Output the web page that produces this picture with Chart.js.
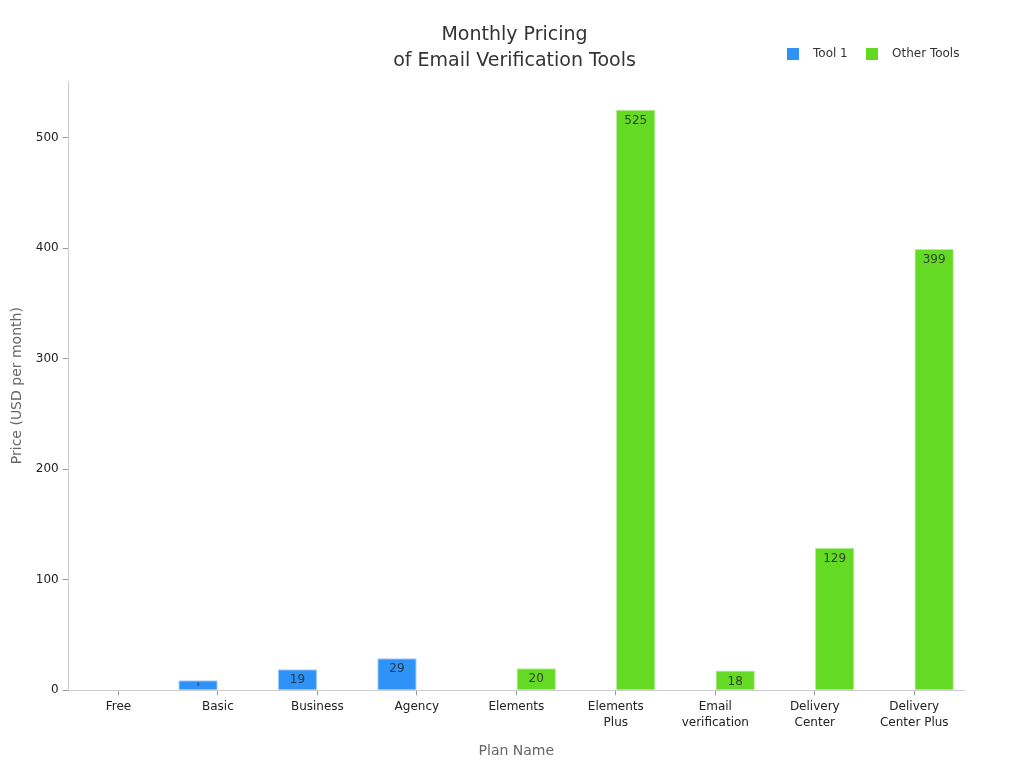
<!DOCTYPE html>
<html>
<head>
<meta charset="utf-8">
<script src="https://cdn.jsdelivr.net/npm/chart.js@4/dist/chart.umd.min.js"></script>
<style>
html,body{margin:0;padding:0;background:#fff;}
#wrap{width:1024px;height:768px;}
</style>
</head>
<body>
<div id="wrap"><canvas id="c" width="1024" height="768"></canvas></div>
<script>
const categories = ['Free', ['Basic'], 'Business', 'Agency', 'Elements', ['Elements', 'Plus'], ['Email', 'verification'], ['Delivery', 'Center'], ['Delivery', 'Center Plus']];
const tool1Values = [0, 9, 19, 29, null, null, null, null, null];
const otherToolsValues = [null, null, null, null, 20, 525, 18, 129, 399];
const seriesNames = ['Tool 1', 'Other Tools'];
const yTicks = [0, 100, 200, 300, 400, 500];
const titleLines = ['Monthly Pricing', 'of Email Verification Tools'];
const xTitle = 'Plan Name';
const yTitle = 'Price (USD per month)';

const FONT = "'DejaVu Sans', sans-serif";
const colors = ['#2f92f6', '#65da25'];
const borders = ['rgba(160,200,250,0.9)', 'rgba(170,235,140,0.9)'];

const valueLabels = {
  id: 'valueLabels',
  afterDatasetsDraw(chart) {
    const ctx = chart.ctx;
    ctx.save();
    ctx.textAlign = 'center';
    ctx.textBaseline = 'middle';
    ctx.fillStyle = 'rgba(40,40,40,0.85)';
    chart.data.datasets.forEach((ds, di) => {
      const meta = chart.getDatasetMeta(di);
      meta.data.forEach((bar, i) => {
        const v = ds.data[i];
        if (v === null || v === 0) return;
        const h = bar.base - bar.y;
        const size = h < 14 ? 5 : 12;
        ctx.font = size + 'px ' + FONT;
        ctx.fillText(String(v), bar.x, h < 14 ? bar.y + h / 2 : bar.y + 11);
      });
    });
    ctx.restore();
  }
};

const customLegend = {
  id: 'customLegend',
  afterDraw(chart) {
    const ctx = chart.ctx;
    ctx.save();
    ctx.font = '12px ' + FONT;
    ctx.textBaseline = 'middle';
    ctx.textAlign = 'left';
    const items = [{x: 787}, {x: 866}];
    chart.data.datasets.forEach((ds, i) => {
      const x = items[i].x;
      const y = 54;
      ctx.fillStyle = ds.backgroundColor;
      ctx.fillRect(x, y - 6, 12, 12);
      ctx.fillStyle = '#333';
      ctx.fillText(ds.label, x + 26, y);
    });
    ctx.restore();
  }
};

new Chart(document.getElementById('c'), {
  type: 'bar',
  data: {
    labels: categories,
    datasets: [
      {label: seriesNames[0], data: tool1Values, backgroundColor: colors[0], borderColor: borders[0], borderWidth: 1},
      {label: seriesNames[1], data: otherToolsValues, backgroundColor: colors[1], borderColor: borders[1], borderWidth: 1}
    ]
  },
  options: {
    responsive: false,
    animation: false,
    devicePixelRatio: 1,
    categoryPercentage: 0.8,
    barPercentage: 0.99,
    layout: {padding: {left: 5, right: 0, top: 0, bottom: 4}},
    plugins: {
      legend: {display: false},
      tooltip: {enabled: false},
      title: {
        display: true,
        text: titleLines,
        color: '#333',
        font: {family: FONT, size: 19, weight: 'normal', lineHeight: 1.37},
        padding: {top: 22, bottom: 7}
      }
    },
    scales: {
      x: {
        grid: {display: true, drawOnChartArea: false, drawTicks: true, tickLength: 5, color: '#999', offset: false},
        border: {display: true, color: '#ccc'},
        ticks: {color: '#222', font: {family: FONT, size: 12, lineHeight: 1.33}, maxRotation: 0, autoSkip: false, padding: 4},
        title: {display: true, text: xTitle, color: '#666', font: {family: FONT, size: 14}, padding: {top: 8}}
      },
      y: {
        min: 0,
        max: 551,
        afterBuildTicks(scale) { scale.ticks = yTicks.map(v => ({value: v})); },
        grid: {display: true, drawOnChartArea: false, drawTicks: true, tickLength: 6, color: '#999'},
        border: {display: true, color: '#ccc'},
        ticks: {color: '#222', font: {family: FONT, size: 12}, padding: 4},
        title: {display: true, text: yTitle, color: '#666', font: {family: FONT, size: 14}, padding: {bottom: 6}}
      },
      yRight: {
        position: 'right',
        display: true,
        min: 0,
        max: 551,
        grid: {display: false},
        border: {display: false},
        ticks: {display: false},
        afterFit(scale) { scale.width = 60; }
      }
    }
  },
  plugins: [valueLabels, customLegend]
});
</script>
</body>
</html>
